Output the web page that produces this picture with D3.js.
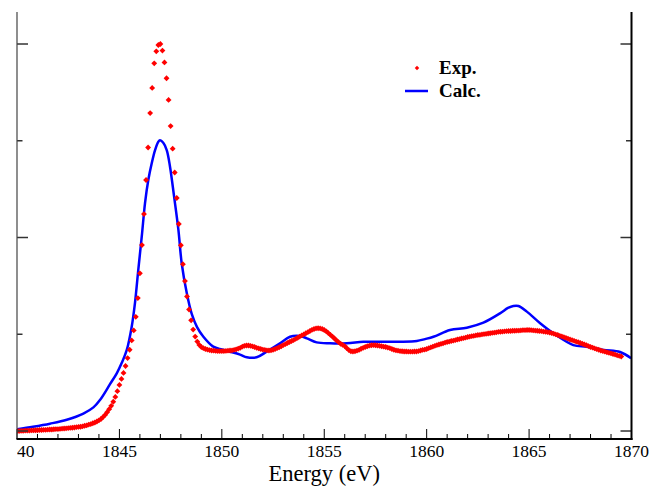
<!DOCTYPE html>
<html><head><meta charset="utf-8">
<script src="https://cdn.jsdelivr.net/npm/d3@7/dist/d3.min.js"></script>
<style>html,body{margin:0;padding:0;background:#fff;}svg{display:block;}</style>
</head><body>
<script>
// Experimental spectrum: energies start at 1840.0 eV, step 0.1 eV
const expStart = 1840.0;
const expStep = 0.1;
const expValues = [
0.000,0.000,0.001,0.001,0.002,0.002,0.002,0.003,0.003,0.004,
0.004,0.005,0.005,0.006,0.006,0.007,0.008,0.008,0.009,0.010,
0.010,0.011,0.012,0.013,0.014,0.015,0.016,0.017,0.018,0.020,
0.021,0.022,0.024,0.027,0.029,0.033,0.036,0.040,0.044,0.049,
0.055,0.062,0.072,0.083,0.097,0.113,0.130,0.151,0.176,0.206,
0.238,0.269,0.300,0.336,0.377,0.420,0.468,0.520,0.590,0.687,
0.815,0.961,1.121,1.297,1.465,1.643,1.773,1.900,1.962,1.995,
2.000,1.966,1.905,1.823,1.711,1.576,1.459,1.336,1.204,1.070,
0.960,0.862,0.775,0.695,0.628,0.572,0.524,0.488,0.462,0.445,
0.434,0.428,0.424,0.421,0.418,0.416,0.415,0.414,0.413,0.413,
0.413,0.413,0.414,0.415,0.416,0.417,0.419,0.422,0.426,0.430,
0.436,0.440,0.442,0.442,0.440,0.437,0.434,0.430,0.427,0.424,
0.421,0.419,0.417,0.416,0.417,0.420,0.424,0.428,0.433,0.438,
0.444,0.449,0.455,0.460,0.465,0.470,0.476,0.482,0.488,0.494,
0.499,0.505,0.511,0.517,0.523,0.527,0.530,0.531,0.530,0.527,
0.522,0.515,0.506,0.497,0.488,0.478,0.468,0.459,0.451,0.445,
0.439,0.428,0.418,0.412,0.411,0.412,0.415,0.419,0.425,0.430,
0.434,0.438,0.441,0.443,0.444,0.443,0.442,0.440,0.438,0.436,
0.434,0.431,0.428,0.424,0.420,0.417,0.415,0.413,0.412,0.411,
0.411,0.410,0.410,0.410,0.411,0.411,0.413,0.416,0.419,0.421,
0.424,0.428,0.432,0.436,0.440,0.444,0.447,0.450,0.453,0.457,
0.460,0.462,0.465,0.467,0.470,0.473,0.475,0.478,0.480,0.483,
0.486,0.488,0.490,0.492,0.494,0.496,0.497,0.499,0.501,0.502,
0.504,0.505,0.507,0.508,0.510,0.512,0.513,0.514,0.515,0.516,
0.517,0.517,0.518,0.518,0.519,0.519,0.520,0.521,0.521,0.522,
0.522,0.521,0.520,0.519,0.518,0.517,0.516,0.514,0.513,0.511,
0.509,0.506,0.503,0.499,0.496,0.492,0.489,0.485,0.481,0.477,
0.473,0.470,0.466,0.462,0.459,0.455,0.451,0.447,0.443,0.439,
0.434,0.431,0.427,0.423,0.420,0.416,0.413,0.410,0.407,0.404,
0.401,0.398,0.395,0.391,0.388,0.385
];

// Calculated spectrum
const calcEnergy = [1840.0,1840.78,1841.61,1842.43,1843.24,1843.73,1844.05,1844.54,1844.87,1845.11,1845.36,1845.60,1845.76,1845.92,1846.09,1846.25,1846.41,1846.58,1846.74,1846.90,1846.98,1847.14,1847.31,1847.47,1847.67,1847.88,1848.04,1848.29,1848.53,1848.79,1849.10,1849.58,1850.01,1850.40,1850.89,1851.22,1851.70,1852.19,1852.84,1853.33,1853.82,1854.15,1854.63,1855.28,1856.10,1856.91,1857.72,1858.70,1859.52,1859.92,1860.33,1861.14,1861.96,1862.77,1863.58,1863.97,1864.23,1864.48,1864.89,1865.54,1866.19,1867.16,1867.82,1868.63,1869.44,1869.98];
const calcValue  = [0.009,0.022,0.038,0.058,0.090,0.122,0.160,0.242,0.298,0.351,0.419,0.539,0.662,0.832,1.004,1.178,1.297,1.385,1.452,1.495,1.502,1.490,1.452,1.366,1.211,1.039,0.867,0.712,0.605,0.537,0.487,0.436,0.421,0.410,0.395,0.381,0.381,0.410,0.453,0.487,0.491,0.479,0.458,0.453,0.453,0.461,0.461,0.461,0.465,0.475,0.487,0.522,0.534,0.560,0.608,0.636,0.646,0.646,0.617,0.557,0.505,0.444,0.436,0.419,0.408,0.376];

const xMajorTicks = [1840,1845,1850,1855,1860,1865,1870];
const xTickLabels = ["1840","1845","1850","1855","1860","1865","1870"];
const yMajorTicks = [0,1,2];
const yMinorTicks = [0.5,1.5];
const seriesNames = ["Exp.","Calc."];
const axisTitle = "Energy (eV)";

const W = 651, H = 487;
const svg = d3.select("body").append("svg").attr("width", W).attr("height", H);

const x = d3.scaleLinear().domain([1840, 1870]).range([17, 631.5]);
const y = d3.scaleLinear().domain([-0.0413, 2.1654]).range([439, 12]);

const serif = "'Liberation Serif','Times New Roman',Times,serif";

const defs = svg.append("defs");
defs.append("clipPath").attr("id","plotclip").append("rect")
  .attr("x", x.range()[0]).attr("y", 0).attr("width", x.range()[1]-x.range()[0]).attr("height", 439);
defs.append("clipPath").attr("id","labelclip").append("rect")
  .attr("x", 17).attr("y", 440).attr("width", W-17).attr("height", 22);

const expData = expValues.map((v,i)=>({e: +(expStart + i*expStep).toFixed(2), v}));
const calcData = calcEnergy.map((e,i)=>({e, v: calcValue[i]}));

const plot = svg.append("g").attr("clip-path","url(#plotclip)");

plot.append("path").datum(calcData)
  .attr("fill","none").attr("stroke","#0000ff").attr("stroke-width",2.5)
  .attr("stroke-linejoin","round")
  .attr("d", d3.line().x(d=>x(d.e)).y(d=>y(d.v)).curve(d3.curveCatmullRom.alpha(0.5)));

const diamond = d3.symbol().type(d3.symbolSquare).size(17);
plot.append("g").selectAll("path").data(expData).join("path")
  .attr("d", diamond)
  .attr("transform", d=>`translate(${x(d.e)},${y(d.v)}) rotate(45)`)
  .attr("fill","#ff0000");

const axG = svg.append("g");
const xMinor = d3.range(1841, 1870).filter(v => v % 5 !== 0);
axG.selectAll(".xmin").data(xMinor).join("line")
  .attr("x1", d=>x(d)).attr("x2", d=>x(d)).attr("y1", 439).attr("y2", 434)
  .attr("stroke","#000").attr("stroke-width",1);
axG.selectAll(".xmaj").data(xMajorTicks).join("line")
  .attr("x1", d=>x(d)).attr("x2", d=>x(d)).attr("y1", 439).attr("y2", 429)
  .attr("stroke","#000").attr("stroke-width",1);
const yTickLen = [[yMajorTicks, 11],[yMinorTicks, 5.5]];
yTickLen.forEach(([ticks,len])=>{
  axG.append("g").selectAll("line").data(ticks).join("line")
    .attr("x1", 17).attr("x2", 17+len).attr("y1", d=>y(d)).attr("y2", d=>y(d))
    .attr("stroke","#333").attr("stroke-width",1.5);
  axG.append("g").selectAll("line").data(ticks).join("line")
    .attr("x1", 631.5).attr("x2", 631.5-len).attr("y1", d=>y(d)).attr("y2", d=>y(d))
    .attr("stroke","#333").attr("stroke-width",1.5);
});
axG.append("line").attr("x1",17).attr("x2",17).attr("y1",12).attr("y2",439)
  .attr("stroke","#444").attr("stroke-width",1.2);
axG.append("line").attr("x1",631.5).attr("x2",631.5).attr("y1",12).attr("y2",440)
  .attr("stroke","#000").attr("stroke-width",2);
axG.append("line").attr("x1",16.5).attr("x2",632.5).attr("y1",439).attr("y2",439)
  .attr("stroke","#000").attr("stroke-width",2.2);

svg.append("g").attr("clip-path","url(#labelclip)")
  .selectAll("text").data(xMajorTicks).join("text")
  .attr("x", d=>x(d)).attr("y", 457)
  .attr("text-anchor","middle")
  .attr("font-family", serif).attr("font-size", 17.5).attr("fill","#000")
  .text((d,i)=>xTickLabels[i]);

svg.append("text").attr("x", (x.range()[0]+x.range()[1])/2).attr("y", 481)
  .attr("text-anchor","middle").attr("font-family", serif).attr("font-size", 22.5)
  .attr("fill","#000").text(axisTitle);

const lg = svg.append("g");
lg.append("path").attr("d", d3.symbol().type(d3.symbolSquare).size(10))
  .attr("transform","translate(417,68) rotate(45)").attr("fill","#ff0000");
lg.append("line").attr("x1",405).attr("x2",428).attr("y1",91).attr("y2",91)
  .attr("stroke","#0000ff").attr("stroke-width",2.5);
lg.selectAll("text").data(seriesNames).join("text")
  .attr("x", 439).attr("y", (d,i)=> i===0 ? 74 : 97)
  .attr("font-family", serif).attr("font-weight","bold").attr("font-size", 19)
  .attr("fill","#000").text(d=>d);
</script>
</body></html>
